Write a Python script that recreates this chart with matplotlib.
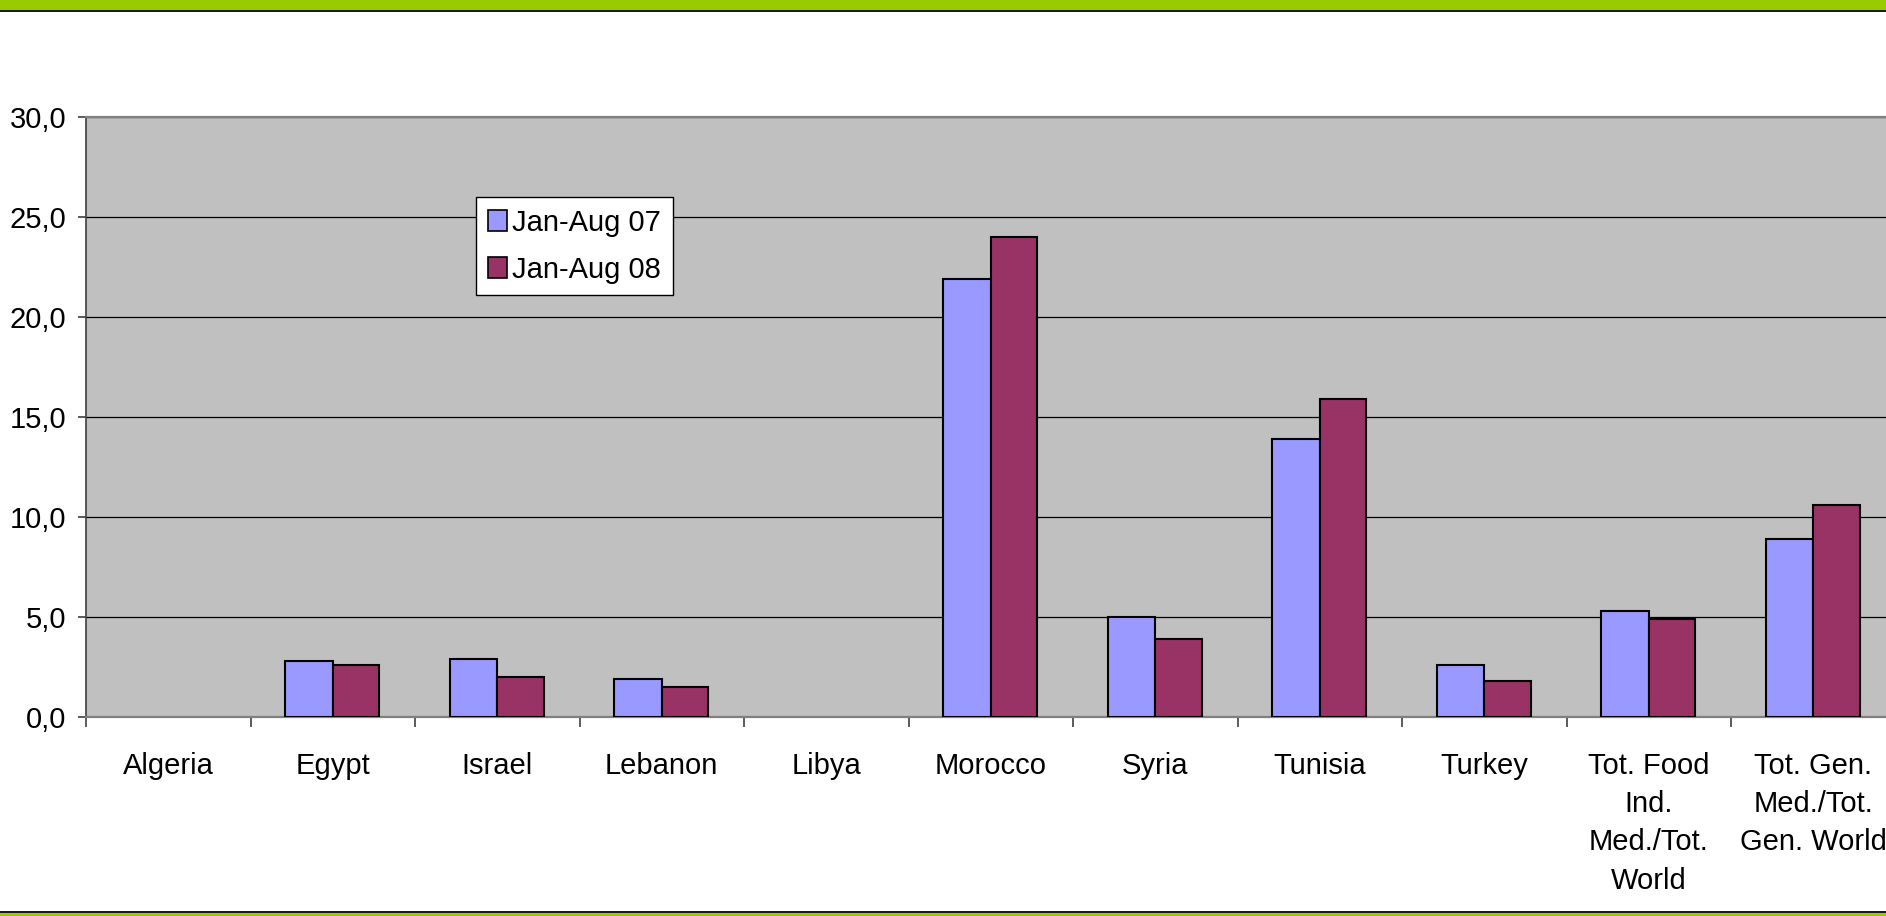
import matplotlib
matplotlib.use("Agg")
import matplotlib.pyplot as plt
from matplotlib.patches import Rectangle
from matplotlib.ticker import FixedLocator, FuncFormatter
import numpy as np

categories = ["Algeria", "Egypt", "Israel", "Lebanon", "Libya", "Morocco",
              "Syria", "Tunisia", "Turkey",
              "Tot. Food\nInd.\nMed./Tot.\nWorld",
              "Tot. Gen.\nMed./Tot.\nGen. World"]
series_names = ["Jan-Aug 07", "Jan-Aug 08"]
values_07 = [np.nan, 2.8, 2.9, 1.9, np.nan, 21.9, 5.0, 13.9, 2.6, 5.3, 8.9]
values_08 = [np.nan, 2.6, 2.0, 1.5, np.nan, 24.0, 3.9, 15.9, 1.8, 4.9, 10.6]
yticks = [0, 5, 10, 15, 20, 25, 30]

plt.rcParams['font.family'] = ['Liberation Sans', 'DejaVu Sans']
FS = 21

W, H = 1886, 916
fig = plt.figure(figsize=(W / 100, H / 100), dpi=100)

# decorative bands
fig.patches.append(Rectangle((0, 1 - 10 / H), 1, 10 / H, transform=fig.transFigure,
                             facecolor="#99CC00", edgecolor="none", zorder=0))
fig.patches.append(Rectangle((0, 1 - 12 / H), 1, 2 / H, transform=fig.transFigure,
                             facecolor="#1a1a1a", edgecolor="none", zorder=0))
fig.patches.append(Rectangle((0, 0), 1, 3 / H, transform=fig.transFigure,
                             facecolor="#99CC00", edgecolor="none", zorder=0))
fig.patches.append(Rectangle((0, 3 / H), 1, 2 / H, transform=fig.transFigure,
                             facecolor="#1a1a1a", edgecolor="none", zorder=0))

left_px, top_px, bottom_px = 86, 117, 717
cat_px = 164.5
ax = fig.add_axes([left_px / W, 1 - bottom_px / H,
                   cat_px * len(categories) / W, (bottom_px - top_px) / H])
ax.set_facecolor("#C0C0C0")

x = np.arange(len(categories))
bw = 0.29
ax.bar(x, values_07, width=-bw, align='edge', color="#9999FF",
       edgecolor="black", linewidth=1.5, label=series_names[0], zorder=3)
ax.bar(x, values_08, width=bw * 0.97, align='edge', color="#993366",
       edgecolor="black", linewidth=1.5, label=series_names[1], zorder=3)

ax.set_xlim(-0.5, len(categories) - 0.5)
ax.set_ylim(0, 30)
ax.yaxis.set_major_locator(FixedLocator(yticks))
ax.yaxis.set_major_formatter(FuncFormatter(lambda v, p: f"{v:.1f}".replace(".", ",")))
ax.grid(axis='y', color="black", linewidth=0.9, zorder=1)
ax.set_axisbelow(True)

ax.set_xticks(x)
ax.set_xticklabels(categories, fontsize=FS, linespacing=1.47)
ax.set_xticks(np.arange(len(categories) + 1) - 0.5, minor=True)
ax.tick_params(axis='x', which='major', length=0, pad=25)
ax.tick_params(axis='x', which='minor', length=7.5, width=1.2, color="#404040", direction='out')
ax.tick_params(axis='y', labelsize=FS, length=6, width=1.2, pad=8, color="#404040")

for s in ['top', 'bottom']:
    ax.spines[s].set_color("#808080")
    ax.spines[s].set_linewidth(1.6)
ax.spines['left'].set_color("#404040")
ax.spines['left'].set_linewidth(1.2)
ax.spines['right'].set_visible(False)

leg = ax.legend(loc='upper left',
                bbox_to_anchor=((476 - left_px) / (cat_px * len(categories)),
                                1 - (197 - top_px) / (bottom_px - top_px)),
                borderaxespad=0, fontsize=FS, frameon=True, fancybox=False,
                edgecolor="black", framealpha=1, handlelength=0.65, handleheight=0.75,
                handletextpad=0.2, labelspacing=0.65, borderpad=0.4)
leg.get_frame().set_linewidth(1.0)
for h in leg.legend_handles:
    h.set_linewidth(1.2)

fig.savefig("out.png", dpi=100)
